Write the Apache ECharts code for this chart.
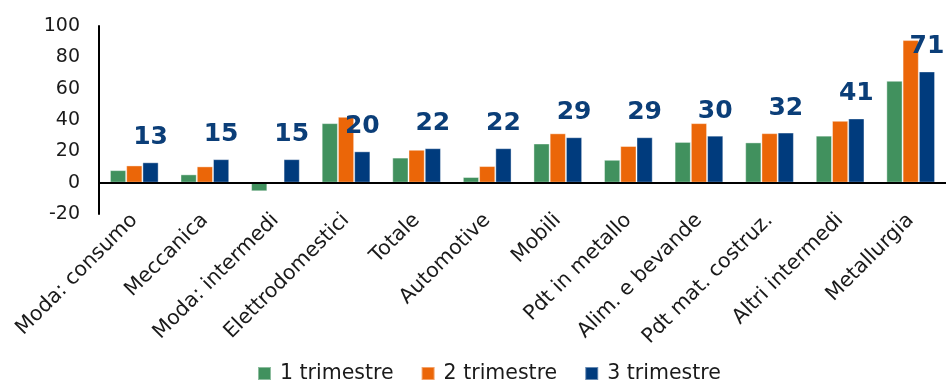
<!DOCTYPE html>
<html><head><meta charset="utf-8">
<script src="https://cdn.jsdelivr.net/npm/echarts@6/dist/echarts.min.js"></script>
<style>html,body{margin:0;padding:0;background:#fff}#c{width:946px;height:383px}</style>
</head><body><div id="c"></div>
<script>
const categories = ["Moda: consumo","Meccanica","Moda: intermedi","Elettrodomestici","Totale","Automotive","Mobili","Pdt in metallo","Alim. e bevande","Pdt mat. costruz.","Altri intermedi","Metallurgia"];
const seriesNames = ["1 trimestre","2 trimestre","3 trimestre"];
const q1 = [8, 5.3, -5.5, 38, 16, 3.6, 25, 14.6, 26, 25.7, 30, 65];
const q2 = [11, 10.4, 0, 42, 21, 10.6, 31.5, 23.4, 38, 31.6, 39.5, 91];
const q3 = [13, 15, 15, 20, 22, 22, 29, 29, 30, 32, 41, 71];
const yTicks = {min: -20, max: 100, interval: 20};
const colors = ["#41915E", "#EB6608", "#003B7D"];
const font = "'DejaVu Sans', sans-serif";

const chart = echarts.init(document.getElementById('c'));
const mk = (name, data, i) => ({
  name, type: 'bar', data,
  itemStyle: {color: colors[i], borderColor: 'rgba(255,255,255,0.4)', borderWidth: 1},
  barGap: '0%', barCategoryGap: '31%',
  label: i === 2 ? {show: true, position: 'top', distance: 12, color: '#0B3E78', fontWeight: 'bold', fontSize: 25, fontFamily: font} : {show: false},
  markLine: i === 0 ? {silent: true, symbol: 'none', label: {show: false}, lineStyle: {color: '#000', width: 2, type: 'solid'}, data: [{yAxis: 0}]} : undefined
});
chart.setOption({
  animation: false,
  grid: {left: 99, right: 0, top: 26, bottom: 169, containLabel: false},
  legend: {bottom: -6, left: 252, itemWidth: 13, itemHeight: 13, itemGap: 27, icon: 'rect',
    textStyle: {fontSize: 20.5, color: '#1a1a1a', fontFamily: font, padding: [0, 0, 0, 4]}, data: seriesNames},
  xAxis: {type: 'category', data: categories,
    axisLine: {show: false, onZero: false}, axisTick: {show: false},
    axisLabel: {rotate: 45, margin: 3, fontSize: 20.5, color: '#1a1a1a', fontFamily: font, interval: 0}},
  yAxis: {type: 'value', min: yTicks.min, max: yTicks.max, interval: yTicks.interval,
    axisLine: {show: true, lineStyle: {color: '#000', width: 2}}, axisTick: {show: false},
    splitLine: {show: false},
    axisLabel: {fontSize: 19, color: '#1a1a1a', margin: 19, fontFamily: font}},
  series: [mk(seriesNames[0], q1, 0), mk(seriesNames[1], q2, 1), mk(seriesNames[2], q3, 2)]
});
</script></body></html>
